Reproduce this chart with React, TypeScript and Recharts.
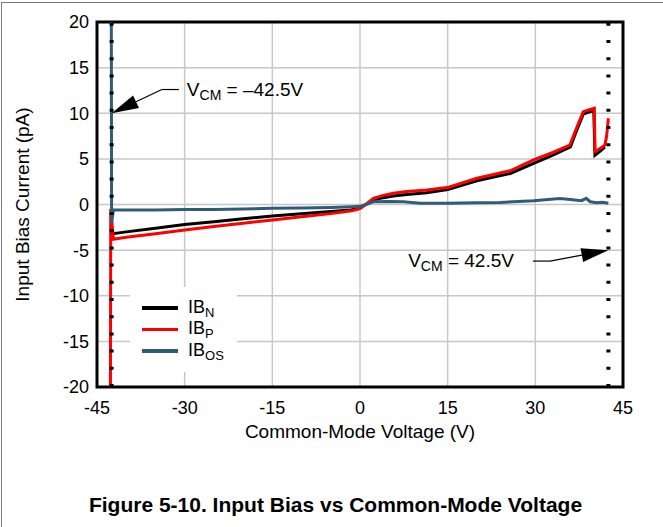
import React from 'react';
import {
  LineChart,
  Line,
  XAxis,
  YAxis,
  CartesianGrid,
  Legend,
  ReferenceLine,
  ReferenceArea,
  Label,
} from 'recharts';

const FONT = "'Liberation Sans', Arial, Helvetica, sans-serif";

// axis ticks
const xTicks = [-45, -30, -15, 0, 15, 30, 45];
const yTicks = [-20, -15, -10, -5, 0, 5, 10, 15, 20];

// series: common-mode voltage (V) vs current (pA)
const ibnV = [-42.5, -42.2, -40, -35, -30, -25, -20, -15, -10, -5, -1.5, 0, 1, 2.3, 4, 5.7, 8, 11.4, 15, 20, 25.7, 29.7, 33, 36, 37, 38.2, 39, 40, 40.2, 41, 41.9];
const ibnI = [-2.6, -3.2, -3.0, -2.6, -2.2, -1.9, -1.55, -1.27, -1.02, -0.78, -0.6, -0.3, 0.0, 0.5, 0.75, 0.93, 1.1, 1.3, 1.65, 2.6, 3.4, 4.5, 5.4, 6.3, 8.0, 9.9, 10.1, 10.3, 5.4, 5.8, 6.3];

const ibpV = [-42.7, -42.65, -42.2, -40, -35, -30, -25, -20, -15, -10, -5, -1.4, 0, 1, 2.3, 4, 5.7, 8, 11.4, 15.2, 20, 25.7, 29.7, 33, 35.9, 37, 38.2, 39.1, 40.1, 40.2, 41, 41.9, 42.2, 42.5];
const ibpI = [-20, -0.5, -3.8, -3.6, -3.2, -2.8, -2.4, -2.05, -1.7, -1.35, -1.0, -0.68, -0.45, 0.0, 0.68, 1.0, 1.23, 1.42, 1.6, 1.9, 2.87, 3.7, 4.9, 5.7, 6.5, 8.3, 10.17, 10.36, 10.54, 5.8, 6.1, 6.5, 7.5, 9.45];

const iboV = [-42.55, -42.5, -42.2, -40, -35, -30, -25, -20, -15, -10, -5, -1.4, 0, 1, 2.3, 5, 7.4, 10.3, 15, 20, 24, 29.7, 34.2, 36, 37.9, 38.7, 39.4, 40.5, 41.5, 42.5];
const iboI = [20, -2.0, -0.6, -0.6, -0.6, -0.55, -0.55, -0.5, -0.42, -0.38, -0.32, -0.24, -0.2, 0.0, 0.3, 0.32, 0.3, 0.15, 0.13, 0.2, 0.22, 0.4, 0.65, 0.55, 0.42, 0.68, 0.3, 0.2, 0.25, 0.13];

const toPoints = (xs: number[], ys: number[]) => xs.map((x, i) => ({ x, y: ys[i] }));

const series = [
  { name: 'IB_N', color: '#000000', data: toPoints(ibnV, ibnI) },
  { name: 'IB_P', color: '#ff0000', data: toPoints(ibpV, ibpI) },
  { name: 'IB_OS', color: '#2f5d78', data: toPoints(iboV, iboI) },
];

const vcmLimits = [-42.5, 42.5];

// annotation callouts: knee point and arrow tip in data units
const callouts = [
  { knee: { x: -33.9, y: 12.6 }, tip: { x: -42.5, y: 10 }, side: 'left', value: '\u201342.5V' },
  { knee: { x: 32.5, y: -6.2 }, tip: { x: 42.5, y: -5 }, side: 'right', value: '42.5V' },
];

const arrowShape = (side: string, value: string) => (p: any) => {
  const { x1, y1, x2, y2 } = p;
  const dx = x2 - x1;
  const dy = y2 - y1;
  const len = Math.hypot(dx, dy) || 1;
  const ux = dx / len;
  const uy = dy / len;
  const L = 27;
  const W = 7;
  const bx = x2 - ux * L;
  const by = y2 - uy * L;
  const pts = `${x2},${y2} ${bx - uy * W},${by + ux * W} ${bx + uy * W},${by - ux * W}`;
  const stubX = side === 'left' ? x1 + 17 : x1 - 17;
  const left = side === 'left';
  return (
    <g>
      <line x1={stubX} y1={y1} x2={x1} y2={y1} stroke="#000" strokeWidth={1.2} />
      <line x1={x1} y1={y1} x2={bx} y2={by} stroke="#000" strokeWidth={1.2} />
      <polygon points={pts} fill="#000" />
      <text
        x={left ? x1 + 25 : x1 - 36}
        y={y1 + 6}
        textAnchor={left ? 'start' : 'end'}
        fontFamily={FONT}
        fontSize={19}
        fill="#000"
      >
        V<tspan dy={4} fontSize={14}>CM</tspan>
        <tspan dy={-4}>{` = ${value}`}</tspan>
      </text>
    </g>
  );
};

const seriesOrder = series.map((s) => s.name);

const LegendBox = ({ payload }: any) => {
  const items = [...(payload || [])].sort(
    (a: any, b: any) => seriesOrder.indexOf(a.value) - seriesOrder.indexOf(b.value),
  );
  return (
    <div style={{ width: 107, height: 85, background: '#fff', paddingTop: 10, boxSizing: 'border-box' }}>
      {items.map((entry: any) => {
        const [base, sub] = String(entry.value).split('_');
        return (
          <div key={entry.value} style={{ display: 'flex', alignItems: 'center', height: 21.5 }}>
            <span style={{ marginLeft: 12, width: 36, height: 3.5, background: entry.color }} />
            <span style={{ marginLeft: 10, fontFamily: FONT, fontSize: 18, lineHeight: '18px', color: '#000' }}>
              {base}
              <span style={{ fontSize: 13, position: 'relative', top: 4 }}>{sub}</span>
            </span>
          </div>
        );
      })}
    </div>
  );
};

export default function App() {
  return (
    <div
      style={{
        position: 'absolute',
        left: 0,
        top: 0,
        width: 663,
        height: 527,
        background: '#fff',
        overflow: 'hidden',
      }}
    >
      <div
        style={{
          position: 'absolute',
          left: 1,
          top: 2,
          width: 662,
          height: 525,
          borderTop: '1px solid #7a7a7a',
          borderLeft: '1px solid #7a7a7a',
        }}
      />
      <LineChart width={663} height={460} margin={{ top: 22, right: 40, left: 7, bottom: 23 }}>
        <CartesianGrid stroke="#c8c8c8" strokeWidth={1.5} />
        <XAxis
          type="number"
          dataKey="x"
          domain={[-45, 45]}
          ticks={xTicks}
          allowDataOverflow
          axisLine={false}
          tickLine={false}
          tickMargin={8}
          height={50}
          tick={{ fontSize: 18, fill: '#000', fontFamily: FONT }}
        >
          <Label
            content={({ viewBox }: any) => (
              <text
                x={viewBox.x + viewBox.width / 2}
                y={viewBox.y + 51}
                textAnchor="middle"
                fontFamily={FONT}
                fontSize={19}
                fill="#000"
              >
                Common-Mode Voltage (V)
              </text>
            )}
          />
        </XAxis>
        <YAxis
          type="number"
          domain={[-20, 20]}
          ticks={yTicks}
          allowDataOverflow
          axisLine={false}
          tickLine={false}
          width={90}
          tick={{ fontSize: 18, fill: '#000', fontFamily: FONT }}
        >
          <Label
            content={({ viewBox }: any) => (
              <text
                x={22}
                y={viewBox.y + viewBox.height / 2}
                transform={`rotate(-90 22 ${viewBox.y + viewBox.height / 2})`}
                textAnchor="middle"
                dominantBaseline="central"
                fontFamily={FONT}
                fontSize={19}
                fill="#000"
              >
                Input Bias Current (pA)
              </text>
            )}
          />
        </YAxis>
        {series.map((s) => (
          <Line
            key={s.name}
            data={s.data}
            dataKey="y"
            name={s.name}
            type="linear"
            stroke={s.color}
            strokeWidth={3}
            dot={false}
            activeDot={false}
            isAnimationActive={false}
          />
        ))}
        {vcmLimits.map((v) => (
          <ReferenceLine key={v} x={v} stroke="#000" strokeWidth={4} strokeDasharray="3 14.2" />
        ))}
        {callouts.map((c) => (
          <ReferenceLine
            key={c.value}
            segment={[c.knee, c.tip]}
            shape={arrowShape(c.side, c.value)}
          />
        ))}
        <ReferenceArea x1={-45} x2={45} y1={-20} y2={20} fill="none" stroke="#000" strokeWidth={3} />
        <Legend
          layout="vertical"
          align="center"
          verticalAlign="middle"
          content={<LegendBox />}
          wrapperStyle={{ position: 'absolute', left: 130, top: 287, width: 107, height: 85 }}
        />
      </LineChart>
      <div
        style={{
          position: 'absolute',
          left: 4,
          top: 493,
          width: 663,
          textAlign: 'center',
          fontFamily: FONT,
          fontWeight: 'bold',
          fontSize: 21,
          color: '#000',
        }}
      >
        Figure 5-10. Input Bias vs Common-Mode Voltage
      </div>
    </div>
  );
}
